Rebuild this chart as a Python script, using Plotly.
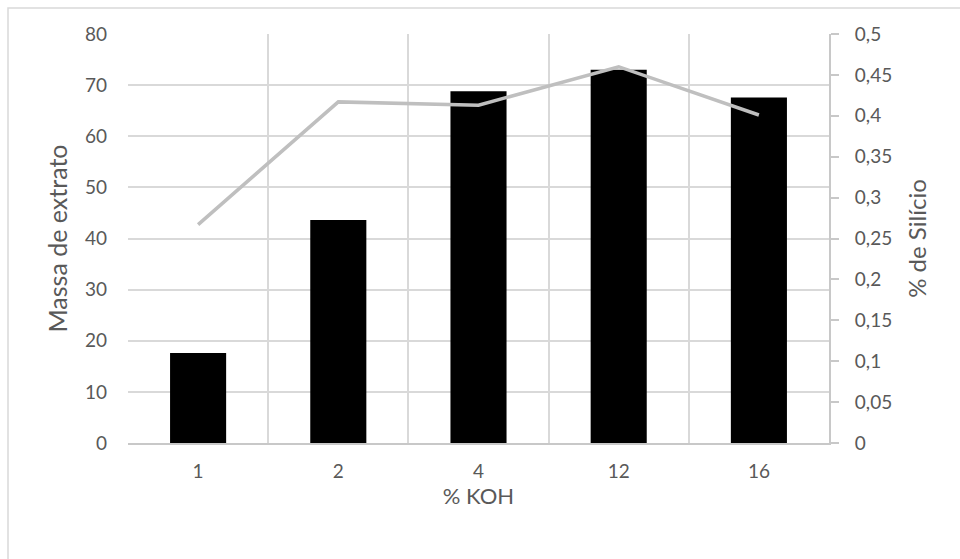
import plotly.graph_objects as go

# % KOH categories and measured results
koh = ["1", "2", "4", "12", "16"]
massa_extrato = [17.6, 43.6, 68.8, 73.0, 67.6]
silicio = [0.267, 0.417, 0.413, 0.460, 0.401]

left_ticks = list(range(0, 81, 10))
right_ticks = [round(i * 0.05, 2) for i in range(11)]
right_labels = [("%g" % v).replace(".", ",") for v in right_ticks]

text_color = "#595959"
grid_color = "#D9D9D9"
font_family = "Lato, 'Open Sans', sans-serif"

# plot area in pixels
L, R, T, B = 128, 829, 34, 443
W, H = R - L, B - T

fig = go.Figure()

fig.add_trace(go.Bar(
    x=koh, y=massa_extrato, name="Massa de extrato",
    marker=dict(color="#000000", line=dict(color="#000000", width=0)),
    yaxis="y",
))

fig.add_trace(go.Scatter(
    x=koh, y=silicio, name="% de Silício", mode="lines",
    line=dict(color="#BFBFBF", width=3.5),
    yaxis="y2",
))

fig.update_layout(
    width=960, height=559,
    margin=dict(l=L, r=960 - R, t=T, b=559 - B),
    paper_bgcolor="white", plot_bgcolor="white",
    showlegend=False,
    bargap=0.6,
    separators=",.",
    font=dict(family=font_family, size=19, color=text_color),
    xaxis=dict(
        type="category",
        tickson="boundaries",
        showgrid=True, gridcolor=grid_color, gridwidth=1.5,
        showline=True, linecolor="#C8C8C8", linewidth=2,
        ticks="", ticklen=0,
        ticklabelstandoff=10,
        tickfont=dict(size=19, color=text_color),
        title=dict(text="% KOH", font=dict(size=22, color=text_color), standoff=7),
    ),
    yaxis=dict(
        range=[0, 80], tickvals=left_ticks,
        showgrid=True, gridcolor=grid_color, gridwidth=1.5,
        showline=False, zeroline=False, ticks="",
        tickfont=dict(size=19, color=text_color),
        ticklabelstandoff=20,
        title=dict(text="Massa de extrato", font=dict(size=25, color=text_color), standoff=10),
    ),
    yaxis2=dict(
        overlaying="y", side="right",
        range=[0, 0.5], tickvals=right_ticks, ticktext=right_labels,
        showgrid=False, zeroline=False,
        showline=True, linecolor="#C8C8C8", linewidth=2,
        ticks="outside", ticklen=8, tickwidth=1.5, tickcolor="#C8C8C8",
        ticklabelstandoff=12,
        tickfont=dict(size=19, color=text_color),
        title=dict(text="% de Silício", font=dict(size=24, color=text_color), standoff=18),
    ),
    shapes=[dict(
        type="rect", xref="paper", yref="paper",
        x0=(8 - L) / W, x1=2.0, y0=-1.0, y1=(B - 8) / H,
        line=dict(color=grid_color, width=1.5), fillcolor="rgba(0,0,0,0)",
        layer="below",
    )],
)

fig.write_html("out.html")
